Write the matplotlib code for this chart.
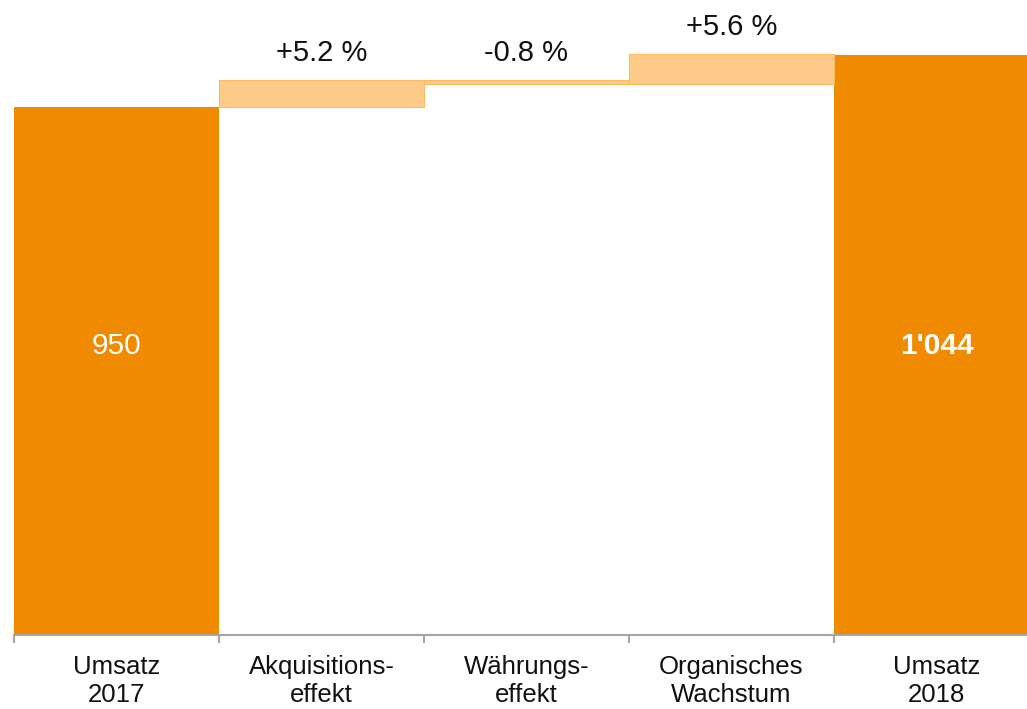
import matplotlib
matplotlib.use("Agg")
import matplotlib.pyplot as plt
import numpy as np

# Revenue bridge 2017 -> 2018
categories = ["Umsatz\n2017", "Akquisitions-\neffekt", "Währungs-\neffekt",
              "Organisches\nWachstum", "Umsatz\n2018"]
start_value = 950
end_value = 1044
effect_pct = [5.2, -0.8, 5.6]
value_labels = ["950", "1'044"]

DARK = "#F08A00"
LIGHT = "#FECB89"
LIGHT_EDGE = "#FDBA5E"
AXIS_GRAY = "#A6A6A6"

plt.rcParams["font.family"] = ["Liberation Sans", "DejaVu Sans"]

fig = plt.figure(figsize=(10.27, 7.09), dpi=100)
W, H = 1027, 709
px_per_unit = 528 / 950
y_top = 1100
ax_h = y_top * px_per_unit
ax = fig.add_axes([14 / W, (H - 635) / H, (W - 14) / W, ax_h / H])

cat_px = 205
x_max = -0.5 + (W - 14) / cat_px
ax.set_xlim(-0.5, x_max)
ax.set_ylim(0, y_top)

x = np.arange(len(categories))

# totals
ax.bar(x[0], start_value, width=1.0, color=DARK, linewidth=0, zorder=2)
ax.bar(x[-1], end_value, width=1.0, color=DARK, linewidth=0, zorder=2)

# floating effect bars
level = start_value
for i, p in enumerate(effect_pct):
    delta = p / 100 * start_value
    lo, hi = sorted([level, level + delta])
    ax.bar(x[i + 1], hi - lo, bottom=lo, width=1.0, color=LIGHT,
           edgecolor=LIGHT_EDGE, linewidth=0.8, zorder=3)
    ax.annotate(f"{p:+.1f} %", (x[i + 1], hi), xytext=(0, 9.3),
                textcoords="offset points", ha="center", va="bottom",
                fontsize=21, color="#111111", annotation_clip=False)
    level += delta

ax.text(x[0], 520, value_labels[0], ha="center", va="center",
        fontsize=21.5, color="white", zorder=4)
ax.text(x[-1], 520, value_labels[1], ha="center", va="center",
        fontsize=21.5, color="white", fontweight="bold", zorder=4)

# axes styling
for side in ["top", "right", "left"]:
    ax.spines[side].set_visible(False)
ax.spines["bottom"].set_color(AXIS_GRAY)
ax.spines["bottom"].set_linewidth(1.5)
ax.spines["bottom"].set_zorder(5)
ax.set_yticks([])

ax.set_xticks(x)
ax.set_xticklabels(categories, fontsize=18.5, linespacing=1.2, color="#111111")
ax.tick_params(axis="x", which="major", length=0, pad=14.5)
ax.set_xticks(np.arange(len(categories)) - 0.5, minor=True)
ax.tick_params(axis="x", which="minor", length=6, width=1.5,
               color=AXIS_GRAY, direction="out")

fig.savefig("out.png", dpi=100, facecolor="white")
